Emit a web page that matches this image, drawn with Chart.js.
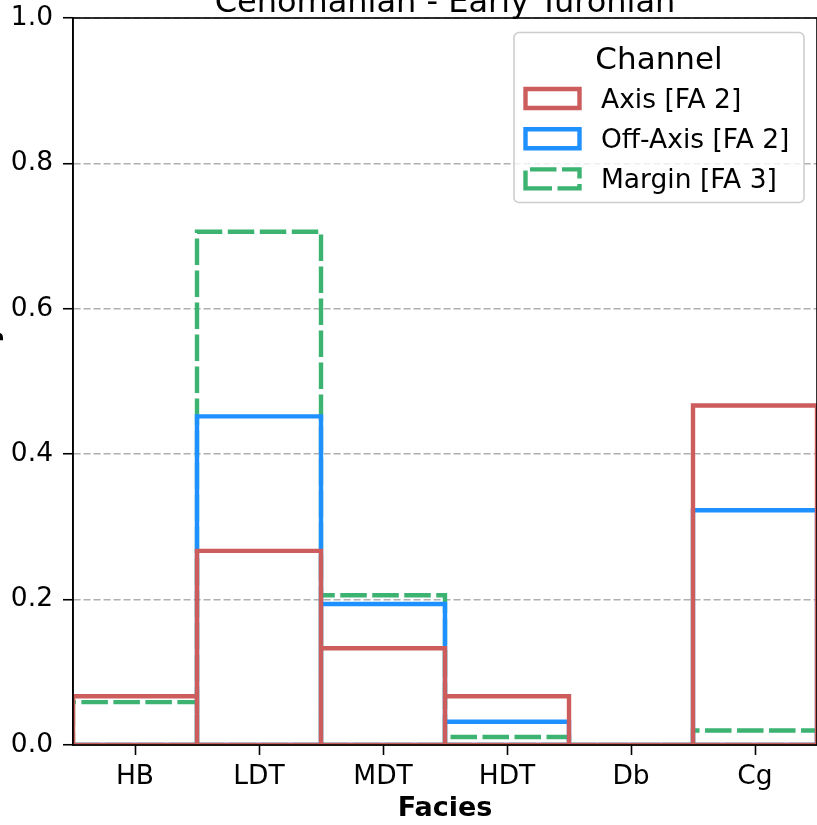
<!DOCTYPE html>
<html>
<head>
<meta charset="utf-8">
<script src="https://cdn.jsdelivr.net/npm/chart.js@4.4.0/dist/chart.umd.min.js"></script>
<style>
  html, body { margin: 0; padding: 0; background: #fff; overflow: hidden; }
  #wrap { position: absolute; left: 0; top: 0; width: 817px; height: 825px; }
</style>
</head>
<body>
<div id="wrap"><canvas id="chart" width="817" height="825"></canvas></div>
<script>
// Facies proportions per channel position
const categories   = ['HB', 'LDT', 'MDT', 'HDT', 'Db', 'Cg'];
const axisShare    = [0.067, 0.267, 0.133, 0.067, 0, 0.467];
const offAxisShare = [0, 0.452, 0.194, 0.032, 0, 0.323];
const marginShare  = [0.059, 0.706, 0.206, 0.011, 0, 0.020];
const seriesNames  = ['Axis [FA 2]', 'Off-Axis [FA 2]', 'Margin [FA 3]'];
const yTicks       = [0, 0.2, 0.4, 0.6, 0.8, 1.0];

const titleText   = 'Cenomanian - Early Turonian';
const xTitleText  = 'Facies';
const yTitleText  = 'Density';
const legendTitle = 'Channel';

const FONT = "'DejaVu Sans', 'Liberation Sans', sans-serif";
Chart.defaults.font.family = FONT;

const RED = '#cd5c5c', BLUE = '#1e90ff', GREEN = '#3cb371';
const GREEN_DASH = [26.5, 5.5];

// One closed rectangle per category bin, bins separated by a gap point
function binOutline(values) {
  const pts = [];
  values.forEach((v, i) => {
    const l = i - 0.5, r = i + 0.5;
    pts.push({ x: l, y: 0 }, { x: r, y: 0 }, { x: r, y: v }, { x: l, y: v }, { x: l, y: 0 });
    pts.push({ x: r, y: null });
  });
  return pts;
}

function lineSet(label, values, color, dash) {
  return {
    label,
    data: binOutline(values),
    borderColor: color,
    backgroundColor: color,
    borderWidth: 4.4,
    borderDash: dash || [],
    borderJoinStyle: 'miter',
    borderCapStyle: 'butt',
    pointRadius: 0,
    pointHoverRadius: 0,
    tension: 0,
    fill: false,
    spanGaps: false,
    clip: 0
  };
}

// Scales keep the plot area exactly where the layout padding puts it
function noOverflow(s) {
  s.paddingTop = 0;
  s.paddingBottom = 0;
  s.paddingLeft = 0;
  s.paddingRight = 0;
}

// Frame, titles and legend
const decor = {
  id: 'decor',
  afterDatasetsDraw(chart) {
    const { ctx, chartArea: a } = chart;
    ctx.save();
    ctx.strokeStyle = '#000';
    ctx.lineWidth = 1.6;
    ctx.strokeRect(a.left, a.top, a.right - a.left, a.bottom - a.top);
    ctx.restore();
  },
  afterDraw(chart) {
    const { ctx, chartArea: a } = chart;
    const cx = (a.left + a.right) / 2;
    ctx.save();
    ctx.fillStyle = '#000';

    // chart title
    ctx.font = '32px ' + FONT;
    ctx.textAlign = 'center';
    ctx.textBaseline = 'alphabetic';
    ctx.fillText(titleText, cx, a.top - 6);

    // y axis title
    ctx.save();
    ctx.translate(-3, (a.top + a.bottom) / 2);
    ctx.rotate(-Math.PI / 2);
    ctx.font = 'bold 26px ' + FONT;
    ctx.textAlign = 'center';
    ctx.textBaseline = 'alphabetic';
    ctx.fillText(yTitleText, 0, 0);
    ctx.restore();

    // legend box
    const fw = 290, fh = 170;
    const fx = a.right - 13 - fw, fy = a.top + 14.5;
    ctx.beginPath();
    ctx.roundRect(fx, fy, fw, fh, 5);
    ctx.fillStyle = 'rgba(255,255,255,0.8)';
    ctx.fill();
    ctx.strokeStyle = '#cccccc';
    ctx.lineWidth = 1.5;
    ctx.stroke();

    ctx.fillStyle = '#000';
    ctx.font = '31px ' + FONT;
    ctx.textAlign = 'center';
    ctx.fillText(legendTitle, fx + fw / 2, fy + 36);

    const ds = chart.data.datasets;
    ds.forEach((d, i) => {
      const rowY = fy + 66 + i * 40.2;
      ctx.save();
      ctx.strokeStyle = d.borderColor;
      ctx.lineWidth = d.borderWidth;
      ctx.setLineDash(d.borderDash);
      ctx.lineJoin = 'miter';
      ctx.beginPath();
      ctx.moveTo(fx + 11.5, rowY + 9.5);
      ctx.lineTo(fx + 65.5, rowY + 9.5);
      ctx.lineTo(fx + 65.5, rowY - 9.5);
      ctx.lineTo(fx + 11.5, rowY - 9.5);
      ctx.closePath();
      ctx.stroke();
      ctx.restore();
      ctx.fillStyle = '#000';
      ctx.font = '26.5px ' + FONT;
      ctx.textAlign = 'left';
      ctx.fillText(d.label, fx + 87, rowY + 9.5);
    });
    ctx.restore();
  }
};

new Chart(document.getElementById('chart'), {
  type: 'line',
  data: {
    datasets: [
      lineSet(seriesNames[0], axisShare, RED),
      lineSet(seriesNames[1], offAxisShare, BLUE),
      lineSet(seriesNames[2], marginShare, GREEN, GREEN_DASH)
    ]
  },
  options: {
    responsive: false,
    animation: false,
    events: [],
    layout: { padding: { top: 18, right: 0, bottom: 0, left: 0 } },
    plugins: { legend: { display: false }, tooltip: { enabled: false } },
    scales: {
      x: {
        type: 'linear',
        min: -0.5,
        max: 5.5,
        afterBuildTicks: s => { s.ticks = categories.map((_, i) => ({ value: i })); },
        afterFit: s => { s.height = 80; noOverflow(s); },
        grid: { drawOnChartArea: false, drawTicks: true, tickLength: 10, tickWidth: 1.6, tickColor: '#000' },
        border: { display: true, color: '#000', width: 1.6 },
        ticks: {
          callback: v => categories[v],
          color: '#000',
          font: { size: 26.5 },
          padding: 6,
          maxRotation: 0,
          autoSkip: false
        },
        title: {
          display: true,
          text: xTitleText,
          color: '#000',
          font: { size: 27, weight: 'bold' },
          padding: { top: 0, bottom: 0 }
        }
      },
      y: {
        type: 'linear',
        min: 0,
        max: 1,
        afterBuildTicks: s => { s.ticks = yTicks.map(v => ({ value: v })); },
        afterFit: s => { s.width = 73; noOverflow(s); },
        grid: { color: '#b0b0b0', lineWidth: 1.5, drawTicks: true, tickLength: 10, tickWidth: 1.6, tickColor: '#000' },
        border: { display: true, color: '#000', width: 1.6, dash: [7, 3] },
        ticks: {
          callback: v => v.toFixed(1),
          color: '#000',
          font: { size: 26.5 },
          padding: 10
        }
      }
    }
  },
  plugins: [decor]
});
</script>
</body>
</html>
